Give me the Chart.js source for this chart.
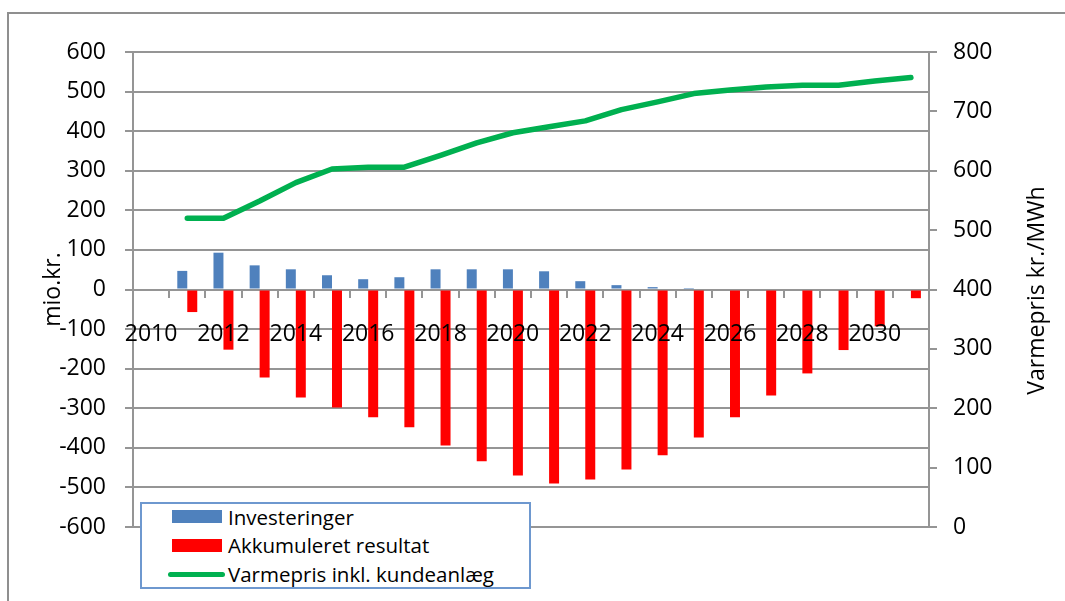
<!DOCTYPE html>
<html>
<head>
<meta charset="utf-8">
<script src="https://cdn.jsdelivr.net/npm/chart.js@4.4.0/dist/chart.umd.min.js"></script>
<style>
  html, body { margin: 0; padding: 0; background: #fff; }
  #wrap { position: relative; width: 1065px; height: 601px; overflow: hidden; }
  #frame { position: absolute; left: 7px; top: 12px; width: 1100px; height: 700px;
           border: 2px solid #8f8f8f; box-sizing: border-box; }
  canvas { position: absolute; left: 0; top: 0; }
  #legend { position: absolute; left: 140px; top: 502px; width: 391px; height: 87px;
            border: 2px solid #6e98cf; background: #fff; box-sizing: border-box;
            font-family: 'Open Sans'; font-size: 20.5px; color: #000; }
  .item { position: absolute; left: 0; width: 100%; height: 28px; }
  .sw { position: absolute; }
  .tx { position: absolute; left: 86px; top: 0; line-height: 28px; white-space: nowrap; }
</style>
</head>
<body>
<div id="wrap">
  <div id="frame"></div>
  <canvas id="chart" width="1065" height="601"></canvas>
  <div id="legend"></div>
</div>
<script>
// Years on the category axis
const years = ['2010','2011','2012','2013','2014','2015','2016','2017','2018','2019','2020',
               '2021','2022','2023','2024','2025','2026','2027','2028','2029','2030','2031'];

// Investeringer (mio.kr.)
const investeringer = [null, 47, 93, 61, 51, 36, 26, 31, 51, 51, 51,
                       46, 21, 11, 6, 1, 0, 0, 0, 0, 0, 0];

// Akkumuleret resultat (mio.kr.)
const akkumuleret = [null, -57, -152, -222, -273, -298, -323, -348, -394, -434, -470,
                     -490, -480, -455, -419, -374, -323, -268, -212, -153, -93, -22];

// Varmepris inkl. kundeanlæg (kr./MWh)
const varmepris = [null, 520, 520, 549, 580, 603, 606, 606, 626, 647, 664,
                   674, 684, 703, 716, 730, 736, 741, 744, 744, 751, 757];

const leftTitle = 'mio.kr.';
const rightTitle = 'Varmepris kr./MWh';

const GRID = '#959595';
const FONT = "'Open Sans'";

Chart.defaults.font.family = FONT;
Chart.defaults.font.size = 23;
Chart.defaults.color = '#000';

// Right axis title reads bottom-to-top
const rightTitlePlugin = {
  id: 'rightTitle',
  afterDraw(chart) {
    const ctx = chart.ctx;
    const a = chart.chartArea;
    ctx.save();
    ctx.translate(1037, (a.top + a.bottom) / 2 + 1);
    ctx.rotate(-Math.PI / 2);
    ctx.font = "23px " + FONT;
    ctx.fillStyle = '#000';
    ctx.textAlign = 'center';
    ctx.textBaseline = 'middle';
    ctx.fillText(rightTitle, 0, 0);
    ctx.restore();
  }
};

const chart = new Chart(document.getElementById('chart'), {
  type: 'bar',
  data: {
    labels: years,
    datasets: [
      { type: 'line', label: 'Varmepris inkl. kundeanlæg', data: varmepris, yAxisID: 'y1',
        borderColor: '#00b050', backgroundColor: '#00b050', borderWidth: 5.5,
        borderCapStyle: 'round', borderJoinStyle: 'round', pointRadius: 0, tension: 0, order: 0 },
      { label: 'Investeringer', data: investeringer, yAxisID: 'y',
        backgroundColor: '#4f81bd', order: 1 },
      { label: 'Akkumuleret resultat', data: akkumuleret, yAxisID: 'y',
        backgroundColor: '#ff0000', order: 1 }
    ]
  },
  options: {
    responsive: false,
    animation: false,
    devicePixelRatio: 1,
    datasets: { bar: { categoryPercentage: 0.552, barPercentage: 1.0 } },
    layout: { padding: { top: 52, bottom: 74, left: 0, right: 0 } },
    plugins: { legend: { display: false }, tooltip: { enabled: false } },
    scales: {
      x: {
        position: { y: 0 },
        offset: true,
        grid: { display: true, drawOnChartArea: false, drawTicks: true, tickLength: 7,
                color: GRID, lineWidth: 2, offset: true },
        border: { display: true, color: GRID, width: 2 },
        ticks: { z: 1, autoSkip: false, maxRotation: 0, minRotation: 0, padding: 24,
                 callback: (v, i) => (i % 2 === 0 ? years[i] : '') },
        afterFit: s => { s.height = 0; }
      },
      y: {
        position: 'left',
        min: -600, max: 600,
        ticks: { stepSize: 100, padding: 19 },
        grid: { color: GRID, lineWidth: 2, tickLength: 8 },
        border: { color: GRID, width: 2 },
        title: { display: true, text: leftTitle, font: { size: 23 }, padding: { top: 40, bottom: 0 } },
        afterFit: s => { s.width = 133; }
      },
      y1: {
        position: 'right',
        min: 0, max: 800,
        ticks: { stepSize: 100, padding: 16 },
        grid: { drawOnChartArea: false, color: GRID, lineWidth: 2, tickLength: 8 },
        border: { color: GRID, width: 2 },
        afterFit: s => { s.width = 136; }
      }
    }
  },
  plugins: [rightTitlePlugin]
});

// Legend built from the chart's datasets
(function buildLegend() {
  const box = document.getElementById('legend');
  const order = [1, 2, 0];
  const centers = [12.5, 41, 70];
  order.forEach((di, row) => {
    const ds = chart.data.datasets[di];
    const item = document.createElement('div');
    item.className = 'item';
    item.style.top = (centers[row] - 14) + 'px';
    const sw = document.createElement('div');
    sw.className = 'sw';
    if (ds.type === 'line') {
      Object.assign(sw.style, { left: '26px', width: '57px', height: '5px', top: '11.5px',
        background: ds.borderColor, borderRadius: '3px' });
    } else {
      Object.assign(sw.style, { left: '30px', width: '50px', height: '13px', top: '7.5px',
        background: ds.backgroundColor });
    }
    const tx = document.createElement('div');
    tx.className = 'tx';
    tx.textContent = ds.label;
    item.appendChild(sw);
    item.appendChild(tx);
    box.appendChild(item);
  });
})();
</script>
</body>
</html>
